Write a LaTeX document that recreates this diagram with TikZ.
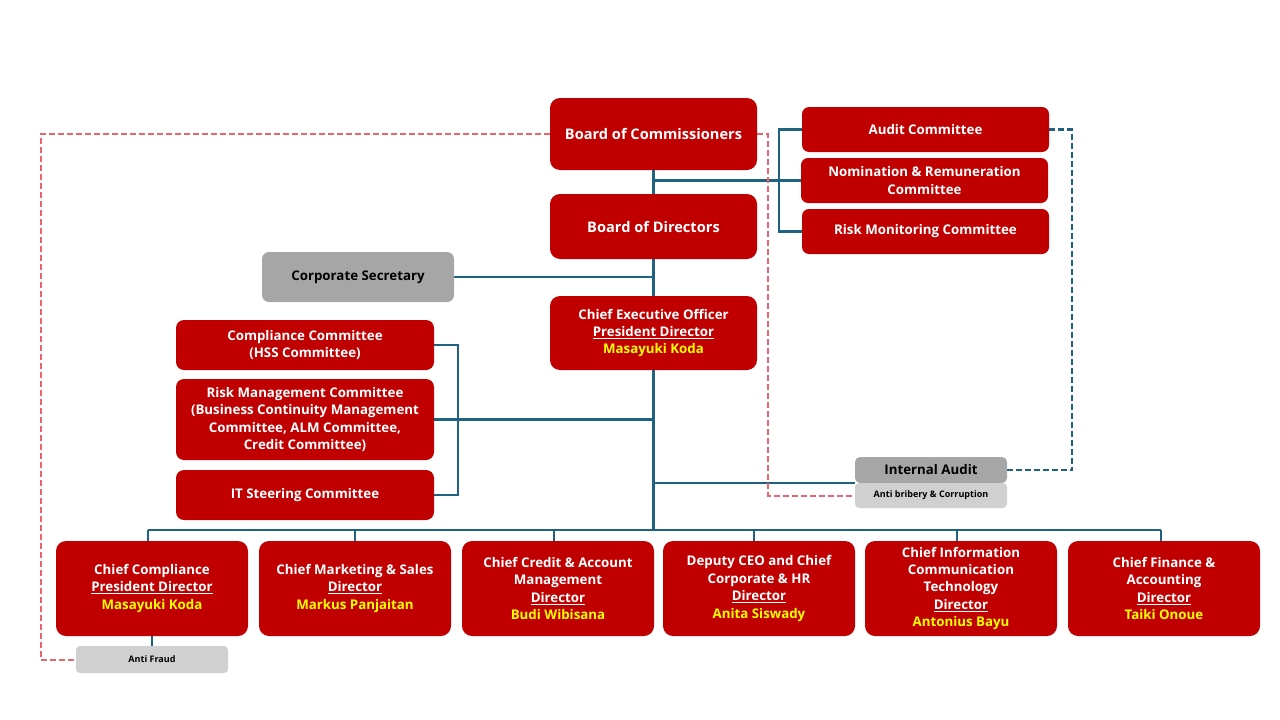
\documentclass[tikz,border=0pt]{standalone}
\usepackage{fontspec}
\setmainfont{Open Sans}
\usetikzlibrary{backgrounds}
\definecolor{boxred}{HTML}{C00000}
\definecolor{midgray}{HTML}{A6A6A6}
\definecolor{lightgray}{HTML}{D0D0D0}
\definecolor{connblue}{HTML}{1F6282}
\definecolor{dashred}{HTML}{E8646E}
\definecolor{nameyellow}{HTML}{FFFF00}
\begin{document}
\begin{tikzpicture}[x=1pt,y=-1pt,
  rbox/.style={fill=boxred, rounded corners=10pt, text=white, align=center, inner sep=0pt,
    font=\bfseries\fontsize{13.3}{17.4}\selectfont},
  gbox/.style={fill=midgray, rounded corners=7pt, text=black, align=center, inner sep=0pt,
    font=\bfseries\fontsize{13.3}{17}\selectfont},
  lbox/.style={fill=lightgray, rounded corners=4pt, text=black, align=center, inner sep=0pt,
    font=\bfseries\fontsize{9}{10}\selectfont},
  conn/.style={draw=connblue, line width=2.2pt},
  rdash/.style={draw=dashred, line width=2pt, dash pattern=on 6pt off 3pt},
  bdash/.style={draw=connblue, line width=2.2pt, dash pattern=on 6pt off 3pt}]
\useasboundingbox (0,0) rectangle (1280,720);

% top
\node[rbox, minimum width=207pt, minimum height=72pt, font=\bfseries\fontsize{14.6}{17}\selectfont] (boc) at (653.5,134) {Board of Commissioners};
\node[rbox, minimum width=207pt, minimum height=65pt, font=\bfseries\fontsize{14.6}{17}\selectfont] (bod) at (653.5,226.5) {Board of Directors};
\node[rbox, rounded corners=7pt, minimum width=247pt, minimum height=45pt] (ac) at (925.5,129.5) {Audit Committee};
\node[rbox, rounded corners=7pt, minimum width=247pt, minimum height=45pt] (nrc) at (924.5,180.5) {Nomination \& Remuneration\\Committee};
\node[rbox, rounded corners=7pt, minimum width=247pt, minimum height=45pt] (rmc) at (925.5,231.5) {Risk Monitoring Committee};
\node[gbox, minimum width=192pt, minimum height=50pt] (cs) at (358,277) {Corporate Secretary};
\node[rbox, minimum width=207pt, minimum height=74pt] (ceo) at (653.5,333) {Chief Executive Officer\\\underline{President Director}\\\textcolor{nameyellow}{Masayuki Koda}};

% left committees
\node[rbox, rounded corners=8pt, minimum width=258pt, minimum height=50pt] (cc) at (305,345) {Compliance Committee\\(HSS Committee)};
\node[rbox, rounded corners=8pt, minimum width=258pt, minimum height=81pt] (rmcm) at (305,419.5) {Risk Management Committee\\(Business Continuity Management\\Committee, ALM Committee,\\Credit Committee)};
\node[rbox, rounded corners=8pt, minimum width=258pt, minimum height=50pt] (it) at (305,495) {IT Steering Committee};

% internal audit
\node[gbox, rounded corners=5pt, minimum width=152pt, minimum height=26pt, font=\bfseries\fontsize{13.3}{14}\selectfont] (ia) at (931,470) {Internal Audit};
\node[lbox, minimum width=152pt, minimum height=25pt] (ab) at (931,495.5) {Anti bribery \& Corruption};

% bottom row
\node[rbox, minimum width=192pt, minimum height=95pt] (b1) at (152,588.5) {Chief Compliance\\\underline{President Director}\\\textcolor{nameyellow}{Masayuki Koda}};
\node[rbox, minimum width=192pt, minimum height=95pt] (b2) at (355,588.5) {Chief Marketing \& Sales\\\underline{Director}\\\textcolor{nameyellow}{Markus Panjaitan}};
\node[rbox, minimum width=192pt, minimum height=95pt] (b3) at (558,588.5) {Chief Credit \& Account\\Management\\\underline{Director}\\\textcolor{nameyellow}{Budi Wibisana}};
\node[rbox, minimum width=192pt, minimum height=95pt] (b4) at (759,588.5) {Deputy CEO and Chief\\Corporate \& HR\\\underline{Director}\\\textcolor{nameyellow}{Anita Siswady}};
\node[rbox, minimum width=192pt, minimum height=95pt] (b5) at (961,588.5) {Chief Information\\Communication\\Technology\\\underline{Director}\\\textcolor{nameyellow}{Antonius Bayu}};
\node[rbox, minimum width=192pt, minimum height=95pt] (b6) at (1164,588.5) {Chief Finance \&\\Accounting\\\underline{Director}\\\textcolor{nameyellow}{Taiki Onoue}};
\node[lbox, minimum width=152pt, minimum height=27pt] (af) at (152,659.5) {Anti Fraud};

\coordinate (bus) at (653.5,530);

\begin{scope}[on background layer]
  \draw[conn] (boc.south) -- (bus);
  \draw[conn] (boc.south |- nrc.west) -- (nrc.west);
  \draw[conn] (ac.west) -- ++(-23,0) |- (rmc.west);
  \draw[conn] (cs.east) -- (cs.east -| bus);
  \draw[conn] (cc.east) -- ++(24,0) |- (it.east);
  \draw[conn] (rmcm.east) -- (rmcm.east -| bus);
  \draw[conn] (ia.south west) -- (ia.south west -| bus);
  \draw[conn] ([xshift=-4pt]b1.north |- bus) -- ([xshift=-3pt]b6.north |- bus);
  \draw[conn] ([xshift=-4pt]b1.north |- bus) -- ([xshift=-4pt]b1.north);
  \draw[conn] (b2.north |- bus) -- (b2.north);
  \draw[conn] ([xshift=-4pt]b3.north |- bus) -- ([xshift=-4pt]b3.north);
  \draw[conn] ([xshift=-5pt]b4.north |- bus) -- ([xshift=-5pt]b4.north);
  \draw[conn] ([xshift=-4pt]b5.north |- bus) -- ([xshift=-4pt]b5.north);
  \draw[conn] ([xshift=-3pt]b6.north |- bus) -- ([xshift=-3pt]b6.north);
  \draw[conn] (b1.south) -- (af.north);
  \draw[rdash] (boc.west) -- ++(-509,0) |- (af.west);
  \draw[rdash] (boc.east) -- ++(11,0) |- (ab.west);
  \draw[bdash] (ac.east) -- ++(23,0) |- (ia.east);
\end{scope}
\end{tikzpicture}
\end{document}
